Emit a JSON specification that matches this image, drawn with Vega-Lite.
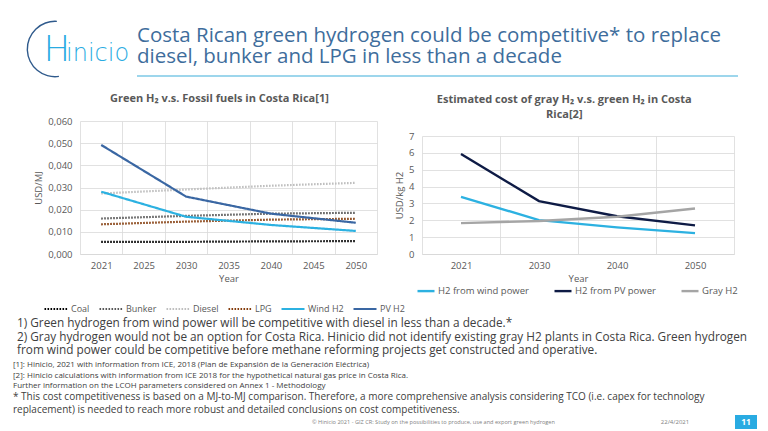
{
  "$schema": "https://vega.github.io/schema/vega-lite/v6.json",
  "background": "white",
  "padding": {"left": 13, "top": 20, "right": 11, "bottom": 3},
  "title": {
    "text": ["Costa Rican green hydrogen could be competitive* to replace", "diesel, bunker and LPG in less than a decade"],
    "anchor": "start",
    "frame": "bounds",
    "dx": 124,
    "offset": -47,
    "fontSize": 20.5,
    "lineHeight": 21,
    "fontWeight": "normal",
    "color": "#3E6D9C"
  },
  "datasets": {
    "fuels": [
      {"year": 2021, "series": "Coal", "usd_mj": 0.0055},
      {"year": 2030, "series": "Coal", "usd_mj": 0.0055},
      {"year": 2040, "series": "Coal", "usd_mj": 0.0057},
      {"year": 2050, "series": "Coal", "usd_mj": 0.0058},
      {"year": 2021, "series": "Bunker", "usd_mj": 0.0160},
      {"year": 2030, "series": "Bunker", "usd_mj": 0.0172},
      {"year": 2040, "series": "Bunker", "usd_mj": 0.0182},
      {"year": 2050, "series": "Bunker", "usd_mj": 0.0186},
      {"year": 2021, "series": "Diesel", "usd_mj": 0.0273},
      {"year": 2030, "series": "Diesel", "usd_mj": 0.0291},
      {"year": 2040, "series": "Diesel", "usd_mj": 0.0308},
      {"year": 2050, "series": "Diesel", "usd_mj": 0.0321},
      {"year": 2021, "series": "LPG", "usd_mj": 0.0134},
      {"year": 2030, "series": "LPG", "usd_mj": 0.0146},
      {"year": 2040, "series": "LPG", "usd_mj": 0.0155},
      {"year": 2050, "series": "LPG", "usd_mj": 0.0159},
      {"year": 2021, "series": "Wind H2", "usd_mj": 0.0281},
      {"year": 2030, "series": "Wind H2", "usd_mj": 0.0168},
      {"year": 2040, "series": "Wind H2", "usd_mj": 0.0131},
      {"year": 2050, "series": "Wind H2", "usd_mj": 0.0104},
      {"year": 2021, "series": "PV H2", "usd_mj": 0.0492},
      {"year": 2030, "series": "PV H2", "usd_mj": 0.0259},
      {"year": 2040, "series": "PV H2", "usd_mj": 0.0182},
      {"year": 2050, "series": "PV H2", "usd_mj": 0.0141}
    ],
    "h2cost": [
      {"year": 2021, "series": "H2 from wind power", "usd_kg": 3.39},
      {"year": 2030, "series": "H2 from wind power", "usd_kg": 2.01},
      {"year": 2040, "series": "H2 from wind power", "usd_kg": 1.58},
      {"year": 2050, "series": "H2 from wind power", "usd_kg": 1.24},
      {"year": 2021, "series": "H2 from PV power", "usd_kg": 5.93},
      {"year": 2030, "series": "H2 from PV power", "usd_kg": 3.14},
      {"year": 2040, "series": "H2 from PV power", "usd_kg": 2.24},
      {"year": 2050, "series": "H2 from PV power", "usd_kg": 1.70},
      {"year": 2021, "series": "Gray H2", "usd_kg": 1.83},
      {"year": 2030, "series": "Gray H2", "usd_kg": 1.96},
      {"year": 2040, "series": "Gray H2", "usd_kg": 2.21},
      {"year": 2050, "series": "Gray H2", "usd_kg": 2.70}
    ],
    "logo": [{"h": "H", "rest": "inicio"}],
    "underline": [{"v": 0}],
    "empty": [],
    "footer": [{"credit": "© Hinicio 2021 - GIZ CR: Study on the possibilities to produce, use and export green hydrogen", "date": "22/4/2021", "page": "11"}]
  },
  "bounds": "flush",
  "spacing": 99,
  "vconcat": [
    {
      "bounds": "flush",
      "spacing": 40,
      "hconcat": [
        {
          "width": 84,
          "height": 54,
          "data": {"name": "logo"},
          "layer": [
            {"mark": {"type": "arc", "innerRadius": 27, "outerRadius": 28.4, "theta": 3.0, "theta2": 6.35, "color": "#2F5A8C"}, "encoding": {}},
            {"mark": {"type": "text", "fontSize": 35, "fontWeight": 300, "color": "#29ABE2", "align": "center", "baseline": "alphabetic", "dx": 2, "dy": 12, "font": "DejaVu Sans"}, "encoding": {"text": {"field": "h"}}},
            {"mark": {"type": "text", "fontSize": 24, "fontWeight": 300, "color": "#29ABE2", "align": "left", "baseline": "alphabetic", "dx": 11, "dy": 12, "font": "DejaVu Sans"}, "encoding": {"text": {"field": "rest"}}}
          ]
        },
        {
          "width": 601,
          "height": 54,
          "data": {"name": "underline"},
          "mark": {"type": "rule", "color": "#7CC8E6", "strokeWidth": 1.3},
          "encoding": {"y": {"field": "v", "type": "quantitative", "scale": {"domain": [0, 1]}, "axis": null}}
        }
      ]
    },
    {
      "bounds": "flush",
      "spacing": 294,
      "vconcat": [
        {
          "bounds": "flush",
          "spacing": 45,
          "hconcat": [
            {
              "width": 22,
              "height": 1,
              "data": {"name": "empty"},
              "mark": "point"
            },
            {
              "width": 297,
              "height": 133,
              "title": {"text": "Green H₂ v.s. Fossil fuels in Costa Rica[1]", "fontSize": 11, "fontWeight": "bold", "color": "#595959", "frame": "bounds", "offset": 12},
              "data": {"name": "fuels"},
              "mark": {"type": "line", "strokeWidth": 2.2, "strokeCap": "butt"},
              "encoding": {
                "x": {"field": "year", "type": "ordinal", "scale": {"type": "band", "domain": [2021, 2025, 2030, 2035, 2040, 2045, 2050], "paddingInner": 0, "paddingOuter": 0},
                  "axis": {"title": "Year", "labelAngle": 0, "grid": true, "tickBand": "extent", "labelPadding": 6, "titlePadding": 4}},
                "y": {"field": "usd_mj", "type": "quantitative", "scale": {"domain": [0, 0.06]},
                  "axis": {"title": "USD/MJ", "format": ".3f", "values": [0, 0.01, 0.02, 0.03, 0.04, 0.05, 0.06], "domain": false, "labelPadding": 8, "titlePadding": 4}},
                "color": {"field": "series", "type": "nominal",
                  "scale": {"domain": ["Coal", "Bunker", "Diesel", "LPG", "Wind H2", "PV H2"], "range": ["#000000", "#595959", "#BFBFBF", "#843C0C", "#2CB1E1", "#3A67A3"]},
                  "legend": {"orient": "none", "legendX": -37, "legendY": 175, "direction": "horizontal", "gridAlign": "each", "title": null, "symbolType": "stroke", "symbolSize": 529, "symbolStrokeWidth": 2.2, "columnPadding": 5, "labelOffset": 2, "labelFontSize": 9}},
                "strokeDash": {"field": "series", "type": "nominal",
                  "scale": {"domain": ["Coal", "Bunker", "Diesel", "LPG", "Wind H2", "PV H2"], "range": [[1.6, 1.4], [1.6, 1.4], [1.6, 1.4], [1.6, 1.4], [1, 0], [1, 0]]}}
              }
            },
            {
              "bounds": "flush",
              "spacing": 14,
              "vconcat": [
                {
                  "width": 312,
                  "height": 1,
                  "data": {"name": "empty"},
                  "mark": "point"
                },
                {
                  "width": 312,
                  "height": 118,
                  "title": {"text": ["Estimated cost of gray H₂ v.s. green H₂ in Costa", "Rica[2]"], "fontSize": 11, "fontWeight": "bold", "color": "#595959", "frame": "bounds", "offset": 11, "lineHeight": 15},
                  "data": {"name": "h2cost"},
                  "mark": {"type": "line", "strokeWidth": 2.4, "strokeCap": "butt"},
                  "encoding": {
                    "x": {"field": "year", "type": "ordinal", "scale": {"type": "band", "domain": [2021, 2030, 2040, 2050], "paddingInner": 0, "paddingOuter": 0},
                      "axis": {"title": "Year", "labelAngle": 0, "grid": true, "tickBand": "extent", "labelPadding": 6, "titlePadding": 4}},
                    "y": {"field": "usd_kg", "type": "quantitative", "scale": {"domain": [0, 7]},
                      "axis": {"title": "USD/kg H2", "format": "d", "values": [0, 1, 2, 3, 4, 5, 6, 7], "domain": false, "labelPadding": 8, "titlePadding": 4}},
                    "color": {"field": "series", "type": "nominal",
                      "scale": {"domain": ["H2 from wind power", "H2 from PV power", "Gray H2"], "range": ["#2CB1E1", "#0E1B45", "#A5A5A5"]},
                      "legend": {"orient": "none", "legendX": -6, "legendY": 160, "direction": "horizontal", "gridAlign": "each", "title": null, "symbolType": "stroke", "symbolSize": 289, "symbolStrokeWidth": 2.4, "columnPadding": 20, "labelOffset": 2, "labelFontSize": 9.5}}
                  }
                }
              ]
            }
          ],
          "resolve": {"scale": {"color": "independent", "strokeDash": "independent", "x": "independent", "y": "independent"}, "legend": {"color": "independent", "strokeDash": "independent"}},
          "title": {
            "text": [
              "1)  Green hydrogen from wind power will be competitive with diesel in less than a decade.*",
              "2)  Gray hydrogen would not be an option for Costa Rica. Hinicio did not identify existing gray H2 plants in Costa Rica. Green hydrogen",
              "      from wind power could be competitive before methane reforming projects get constructed and operative."
            ],
            "orient": "bottom",
            "anchor": "start",
            "frame": "bounds",
            "dx": 4,
            "offset": 4,
            "fontSize": 11.8,
            "lineHeight": 13.5,
            "fontWeight": "normal",
            "color": "#404040"
          }
        },
        {
          "bounds": "flush",
          "spacing": 44,
          "hconcat": [
            {
              "width": 598,
              "height": 14,
              "data": {"name": "footer"},
              "mark": {"type": "text", "align": "left", "fontSize": 5.6, "color": "#7F7F7F"},
              "encoding": {"text": {"field": "credit"}}
            },
            {
              "bounds": "flush",
              "spacing": 40,
              "hconcat": [
                {
                  "width": 40,
                  "height": 14,
                  "data": {"name": "footer"},
                  "mark": {"type": "text", "fontSize": 6, "color": "#7F7F7F"},
                  "encoding": {"text": {"field": "date"}}
                },
                {
                  "width": 22,
                  "height": 14,
                  "view": {"fill": "#29ABE2", "stroke": null},
                  "data": {"name": "footer"},
                  "mark": {"type": "text", "fontSize": 8.5, "fontWeight": "bold", "color": "white"},
                  "encoding": {"text": {"field": "page"}}
                }
              ]
            }
          ],
          "title": {
            "text": [
              "[1]: Hinicio, 2021 with information from ICE, 2018 (Plan de Expansión de la Generación Eléctrica)",
              "[2]: Hinicio calculations with information from ICE 2018 for the hypothetical natural gas price in Costa Rica.",
              "Further information on the LCOH parameters considered on Annex 1 - Methodology"
            ],
            "subtitle": [
              "* This cost competitiveness is based on a MJ-to-MJ comparison. Therefore, a more comprehensive analysis considering TCO (i.e. capex for technology",
              "replacement) is needed to reach more robust and detailed conclusions on cost competitiveness."
            ],
            "anchor": "start",
            "frame": "bounds",
            "offset": 0,
            "fontSize": 8,
            "lineHeight": 10.5,
            "fontWeight": "normal",
            "color": "#404040",
            "subtitleFontSize": 10,
            "subtitleLineHeight": 13,
            "subtitleColor": "#404040",
            "subtitlePadding": 2
          }
        }
      ]
    }
  ],
  "config": {
    "font": "Open Sans",
    "view": {"stroke": null},
    "axis": {"labelColor": "#595959", "titleColor": "#595959", "labelFontSize": 9.5, "titleFontSize": 9.5, "titleFontWeight": "normal", "gridColor": "#D9D9D9", "gridWidth": 0.8, "domainColor": "#D9D9D9", "ticks": false},
    "legend": {"labelColor": "#595959"},
    "locale": {"number": {"decimal": ",", "thousands": ".", "grouping": [3], "currency": ["", ""]}}
  }
}
